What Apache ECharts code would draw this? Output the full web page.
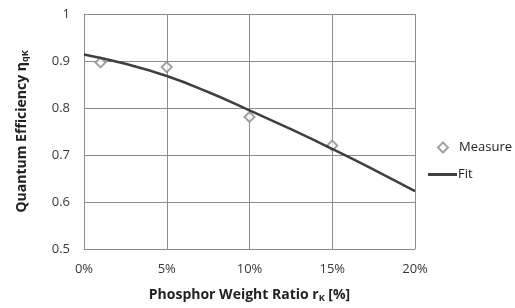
<!DOCTYPE html>
<html>
<head>
<meta charset="utf-8">
<script src="https://cdn.jsdelivr.net/npm/echarts@6/dist/echarts.min.js"></script>
<style>
  html, body { margin: 0; padding: 0; background: #fff; }
  #chart { width: 515px; height: 308px; }
</style>
</head>
<body>
<div id="chart"></div>
<script>
// measured points (weight ratio in %, efficiency)
var measureX = [1, 5, 10, 15];
var measureY = [0.897, 0.887, 0.781, 0.72];

// fit curve
var fitX = [0, 2.5, 5, 7.5, 10, 12.5, 15, 17.5, 20];
var fitY = [0.914, 0.894, 0.868, 0.834, 0.795, 0.755, 0.713, 0.669, 0.623];

var xTicks = [0, 5, 10, 15, 20];
var yTicks = [0.5, 0.6, 0.7, 0.8, 0.9, 1];

function pairs(xs, ys) {
  return xs.map(function (x, i) { return [x, ys[i]]; });
}

var font = '"Open Sans", "Liberation Sans", sans-serif';
var gridColor = '#8c8c8c';
var labelColor = '#383838';
var subStyle = { fontSize: 9, fontWeight: 'bold', verticalAlign: 'bottom', padding: [6, 0, 0, 0], color: '#222', fontFamily: font };

var chart = echarts.init(document.getElementById('chart'));
chart.setOption({
  animation: false,
  textStyle: { fontFamily: font },
  grid: { left: 84, right: 100, top: 14, bottom: 58 },
  legend: [
    {
      orient: 'vertical',
      left: 432,
      top: 136,
      itemWidth: 10,
      itemHeight: 10,
      icon: 'emptyDiamond',
      textStyle: { fontSize: 13, color: '#222', fontFamily: font, padding: [0, 0, 0, 6] },
      data: ['Measure']
    },
    {
      orient: 'vertical',
      left: 423,
      top: 163,
      itemWidth: 29,
      itemHeight: 3,
      icon: 'rect',
      itemGap: 0,
      textStyle: { fontSize: 13, color: '#222', fontFamily: font, padding: [0, 0, 0, -4] },
      data: ['Fit']
    }
  ],
  xAxis: {
    type: 'value',
    min: xTicks[0],
    max: xTicks[xTicks.length - 1],
    interval: 5,
    name: 'Phosphor Weight Ratio r{sub|K} [%]',
    nameLocation: 'middle',
    nameGap: 39,
    nameTextStyle: {
      fontSize: 14, fontWeight: 'bold', color: '#222', fontFamily: font,
      rich: { sub: subStyle }
    },
    axisLine: { lineStyle: { color: gridColor } },
    axisTick: { show: false },
    axisLabel: { formatter: '{value}%', color: labelColor, fontSize: 13, margin: 14 },
    splitLine: { lineStyle: { color: gridColor, width: 1 } }
  },
  yAxis: {
    type: 'value',
    min: yTicks[0],
    max: yTicks[yTicks.length - 1],
    interval: 0.1,
    name: 'Quantum Efficiency η{sub|qK}',
    nameLocation: 'middle',
    nameGap: 54,
    nameTextStyle: {
      fontSize: 14, fontWeight: 'bold', color: '#222', fontFamily: font,
      rich: { sub: subStyle }
    },
    axisLine: { show: true, lineStyle: { color: gridColor } },
    axisTick: { show: false },
    axisLabel: {
      color: labelColor, fontSize: 13, margin: 14,
      formatter: function (v) { return String(Math.round(v * 10) / 10); }
    },
    splitLine: { lineStyle: { color: gridColor, width: 1 } }
  },
  series: [
    {
      name: 'Measure',
      type: 'scatter',
      symbol: 'emptyDiamond',
      symbolSize: 10,
      itemStyle: { color: '#8a8a8a', borderColor: '#8a8a8a', borderWidth: 1.2 },
      data: pairs(measureX, measureY),
      z: 3
    },
    {
      name: 'Fit',
      type: 'line',
      smooth: true,
      symbol: 'none',
      lineStyle: { color: '#3f3f3f', width: 2.5 },
      itemStyle: { color: '#3f3f3f' },
      data: pairs(fitX, fitY),
      z: 4
    }
  ]
});
</script>
</body>
</html>
